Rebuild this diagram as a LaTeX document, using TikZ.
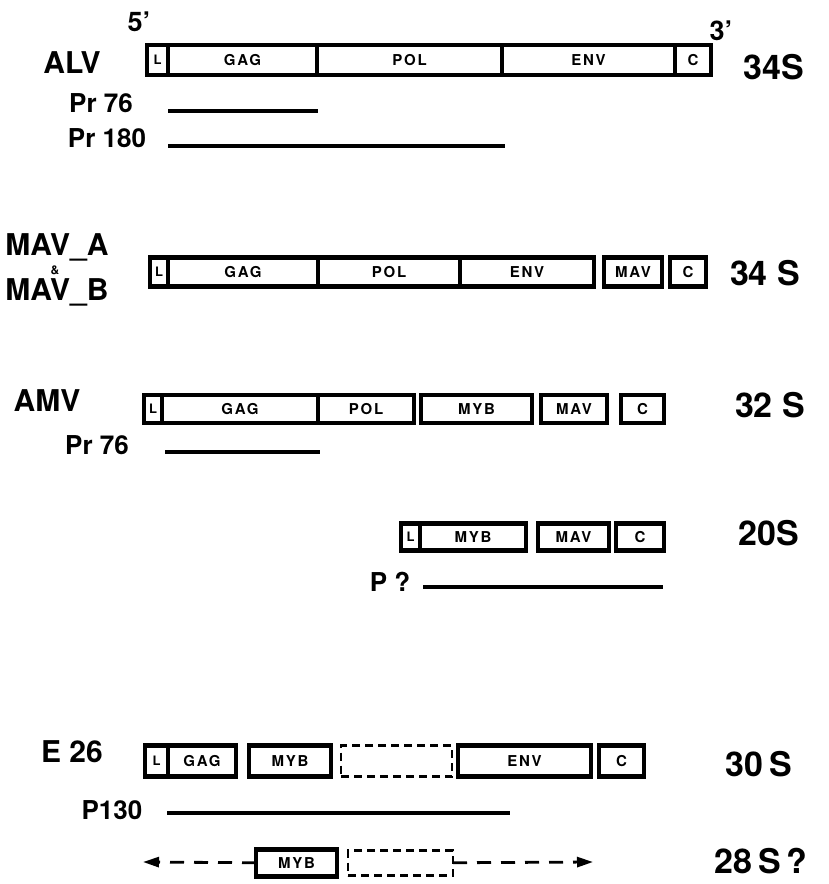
\documentclass[tikz,border=0pt]{standalone}
\usepackage{fontspec}
\setmainfont{TeX Gyre Heros}
\newfontfamily\genefam[LetterSpace=12]{TeX Gyre Heros}
\usetikzlibrary{arrows.meta,positioning}

\newcommand\genefont{\genefam\fontsize{15}{15}\selectfont\bfseries}
\newcommand\lfont{\fontsize{13}{13}\selectfont\bfseries}
\newcommand\virusfont{\fontsize{30}{30}\selectfont\bfseries}
\newcommand\svalfont{\fontsize{34}{34}\selectfont\bfseries}
\newcommand\pfont{\fontsize{26}{26}\selectfont\bfseries}

\tikzset{
  gene/.style={draw,line width=4.5pt,inner sep=0pt,outer sep=0pt,minimum height=30pt,font=\genefont},
  lbox/.style={gene,font=\lfont},
  hole/.style={gene,line width=2.6pt,dash pattern=on 8pt off 5pt},
  prot/.style={line width=4.5pt},
  ext/.style={line width=2.8pt,dash pattern=on 14pt off 10pt,-{Triangle[length=16pt,width=10pt]}},
  virus/.style={font=\virusfont},
  sval/.style={font=\svalfont},
  plabel/.style={font=\pfont}
}

\begin{document}
\begin{tikzpicture}[x=1pt,y=-1pt]
\useasboundingbox (0,0) rectangle (828,884);
% ALV
\node[virus] (alv) at (72,63) {ALV};
\node[font=\fontsize{27}{27}\selectfont\bfseries] (five) at (139,22) {5’};
\node[font=\fontsize{27}{27}\selectfont\bfseries] (three) at (721,31) {3’};
\node[lbox,minimum width=21pt,anchor=west] (alvL) at (147,60) {L};
\node[gene,minimum width=149pt,right=0pt of alvL] (alvGag) {GAG};
\node[gene,minimum width=185pt,right=0pt of alvGag] (alvPol) {POL};
\node[gene,minimum width=173pt,right=0pt of alvPol] (alvEnv) {ENV};
\node[gene,minimum width=36pt,right=0pt of alvEnv] (alvC) {C};
\node[sval] (alvS) at (774,67) {34S};
\node[plabel] (pr76) at (101,103) {Pr 76};
\coordinate (pr76a) at (168,111);
\coordinate (pr76b) at (318,111);
\draw[prot] (pr76a) -- (pr76b);
\node[plabel] (pr180) at (107,138) {Pr 180};
\coordinate (pr180a) at (168,146);
\coordinate (pr180b) at (505,146);
\draw[prot] (pr180a) -- (pr180b);
% MAV-A and MAV-B
\node[virus] (mava) at (57,247) {MAV\_A};
\node[font=\fontsize{12}{12}\selectfont\bfseries] (amp) at (55,270) {\&};
\node[virus] (mavb) at (57,292) {MAV\_B};
\node[lbox,minimum width=18pt,minimum height=29pt,anchor=west] (mavL) at (150,272) {L};
\node[gene,minimum width=150pt,minimum height=29pt,right=0pt of mavL] (mavGag) {GAG};
\node[gene,minimum width=142pt,minimum height=29pt,right=0pt of mavGag] (mavPol) {POL};
\node[gene,minimum width=134pt,minimum height=29pt,right=0pt of mavPol] (mavEnv) {ENV};
\node[gene,minimum width=58pt,minimum height=29pt,right=10pt of mavEnv] (mavMav) {MAV};
\node[gene,minimum width=36pt,minimum height=29pt,right=8pt of mavMav] (mavC) {C};
\node[sval] (mavS) at (765,273) {34 S};
% AMV
\node[virus] (amv) at (47,401) {AMV};
\node[lbox,minimum width=18pt,minimum height=28pt,anchor=west] (amvL) at (144,409) {L};
\node[gene,minimum width=156pt,minimum height=28pt,right=0pt of amvL] (amvGag) {GAG};
\node[gene,minimum width=96pt,minimum height=28pt,right=0pt of amvGag] (amvPol) {POL};
\node[gene,minimum width=111pt,minimum height=28pt,right=7pt of amvPol] (amvMyb) {MYB};
\node[gene,minimum width=66pt,minimum height=28pt,right=9pt of amvMyb] (amvMav) {MAV};
\node[gene,minimum width=43pt,minimum height=28pt,right=14pt of amvMav] (amvC) {C};
\node[sval] (amvS) at (770,405) {32 S};
\node[plabel] (amvPr) at (97,445) {Pr 76};
\coordinate (amvPra) at (165,452);
\coordinate (amvPrb) at (320,452);
\draw[prot] (amvPra) -- (amvPrb);
% 20S
\node[lbox,minimum width=19pt,minimum height=27pt,anchor=west] (tL) at (401,537) {L};
\node[gene,minimum width=106pt,minimum height=27pt,right=0pt of tL] (tMyb) {MYB};
\node[gene,minimum width=71pt,minimum height=27pt,right=12pt of tMyb] (tMav) {MAV};
\node[gene,minimum width=48pt,minimum height=27pt,right=7pt of tMav] (tC) {C};
\node[sval] (tS) at (769,533) {20S};
\node[plabel] (pq) at (390,582) {P ?};
\coordinate (pqa) at (423,587);
\coordinate (pqb) at (663,587);
\draw[prot] (pqa) -- (pqb);
% E26
\node[virus] (e26) at (72,752) {E 26};
\node[lbox,minimum width=23pt,minimum height=31pt,anchor=west] (eL) at (145,761) {L};
\node[gene,minimum width=68pt,minimum height=31pt,right=0pt of eL] (eGag) {GAG};
\node[gene,minimum width=82pt,minimum height=31pt,right=13pt of eGag] (eMyb) {MYB};
\node[hole,minimum width=111pt,minimum height=31pt,right=10pt of eMyb] (eHole) {};
\node[gene,minimum width=133pt,minimum height=31pt,right=6pt of eHole] (eEnv) {ENV};
\node[gene,minimum width=45pt,minimum height=31pt,right=8pt of eEnv] (eC) {C};
\node[sval] (eS) at (759,764) {30\,S};
\node[plabel] (p130) at (112,810) {P130};
\coordinate (p130a) at (167,813);
\coordinate (p130b) at (510,813);
\draw[prot] (p130a) -- (p130b);
% 28S?
\node[gene,minimum width=81pt,minimum height=27pt,anchor=west] (sMyb) at (256,863) {MYB};
\node[hole,minimum width=105pt,minimum height=25pt,right=11pt of sMyb] (sHole) {};
\node[sval] (sS) at (761,861) {28\,S\,?};
\coordinate (sLeft) at (143,862);
\coordinate (sRight) at (593,862);
\draw[ext] (sMyb) -- (sLeft);
\draw[ext] (sHole) -- (sRight);
\end{tikzpicture}
\end{document}
